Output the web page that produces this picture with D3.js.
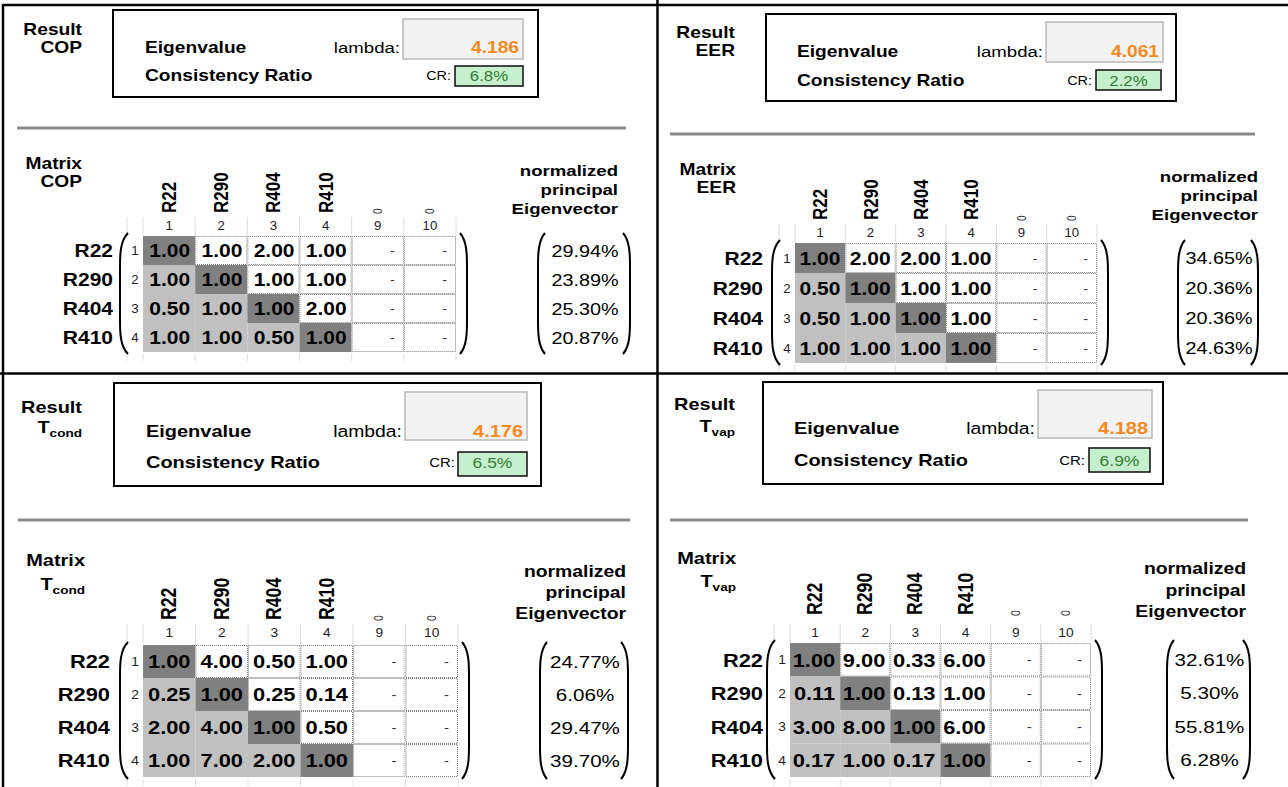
<!DOCTYPE html>
<html><head><meta charset="utf-8">
<script src="https://cdn.jsdelivr.net/npm/d3@7"></script>
<style>body{margin:0;background:#fff}svg{display:block}</style>
</head><body>
<script>
// ---------- data ----------
const alternatives = ["R22","R290","R404","R410"];
const columnNumbers = ["1","2","3","4","9","10"];
const columnHeaders = ["R22","R290","R404","R410","0","0"];
const criteriaNames = ["COP","EER","T","T"];
const criteriaSubscripts = ["","","cond","vap"];
const lambdaValues = ["4.186","4.061","4.176","4.188"];
const crValues = ["6.8%","2.2%","6.5%","6.9%"];
const matrixCOP   = [[1.00,1.00,2.00,1.00],[1.00,1.00,1.00,1.00],[0.50,1.00,1.00,2.00],[1.00,1.00,0.50,1.00]];
const matrixEER   = [[1.00,2.00,2.00,1.00],[0.50,1.00,1.00,1.00],[0.50,1.00,1.00,1.00],[1.00,1.00,1.00,1.00]];
const matrixTcond = [[1.00,4.00,0.50,1.00],[0.25,1.00,0.25,0.14],[2.00,4.00,1.00,0.50],[1.00,7.00,2.00,1.00]];
const matrixTvap  = [[1.00,9.00,0.33,6.00],[0.11,1.00,0.13,1.00],[3.00,8.00,1.00,6.00],[0.17,1.00,0.17,1.00]];
const eigenCOP   = [29.94,23.89,25.30,20.87];
const eigenEER   = [34.65,20.36,20.36,24.63];
const eigenTcond = [24.77,6.06,29.47,39.70];
const eigenTvap  = [32.61,5.30,55.81,6.28];

const panelData = [
  {name:criteriaNames[0], sub:criteriaSubscripts[0], lambda:lambdaValues[0], cr:crValues[0], matrix:matrixCOP, eigen:eigenCOP},
  {name:criteriaNames[1], sub:criteriaSubscripts[1], lambda:lambdaValues[1], cr:crValues[1], matrix:matrixEER, eigen:eigenEER},
  {name:criteriaNames[2], sub:criteriaSubscripts[2], lambda:lambdaValues[2], cr:crValues[2], matrix:matrixTcond, eigen:eigenTcond},
  {name:criteriaNames[3], sub:criteriaSubscripts[3], lambda:lambdaValues[3], cr:crValues[3], matrix:matrixTvap, eigen:eigenTvap}
];

// ---------- layout (screen positions) ----------
const layouts = [
  {resR:82, resY:35, critY:53, box:[113,10,538,97], labX:145, eigY:53, crY:81, lamR:400, gray:[403,19,523,59], green:[455,66,523,86], crR:451,
   sep:[17,626,128], matR:82, matY:169, matCritY:187, gx:[143,456], gy:[236,352], rowLabR:113, rowNumX:127, colNumY:230, hdrBottom:213,
   eig:[538,630], eigHeadR:618, eigHeadY:[176,195,214], fs:1},
  {resR:735, resY:38, critY:56, box:[766,14,1176,101], labX:797, eigY:57, crY:86, lamR:1043, gray:[1046,22,1163,62], green:[1096,70,1161,90], crR:1092,
   sep:[670,1255,134], matR:736, matY:175, matCritY:193, gx:[795,1097], gy:[243,363], rowLabR:763, rowNumX:779, colNumY:237, hdrBottom:220,
   eig:[1178,1258], eigHeadR:1258, eigHeadY:[182,201,220], fs:1},
  {resR:82, resY:413, critY:433, box:[114,383,541,486], labX:146, eigY:437, crY:468, lamR:402, gray:[405,392,527,440], green:[458,452,527,476], crR:455,
   sep:[18,630,520], matR:85, matY:566, matCritY:590, gx:[143,458], gy:[645,777], rowLabR:110, rowNumX:127, colNumY:637, hdrBottom:620,
   eig:[540,628], eigHeadR:626, eigHeadY:[577,598,619], fs:1.04},
  {resR:735, resY:410, critY:432, box:[763,382,1163,484], labX:794, eigY:434, crY:466, lamR:1035, gray:[1038,390,1152,438], green:[1089,448,1150,472], crR:1085,
   sep:[670,1248,520], matR:736, matY:564, matCritY:587, gx:[790,1091], gy:[643,777], rowLabR:763, rowNumX:774, colNumY:637, hdrBottom:615,
   eig:[1167,1250], eigHeadR:1246, eigHeadY:[574,596,617], fs:1.04}
];

const W = 1288, H = 787;
const FONT = "'Liberation Sans', Arial, sans-serif";
const SX = 1.2;

const svg = d3.select("body").append("svg").attr("width", W).attr("height", H)
  .style("font-family", FONT);
svg.append("rect").attr("width", W).attr("height", H).attr("fill", "#fff");

function txt(g, x, y, s, o = {}) {
  return g.append("text")
    .attr("transform", `translate(${x},${y}) scale(${o.sx || SX},1)`)
    .attr("text-anchor", o.anchor || "start")
    .attr("font-size", o.size || 16)
    .attr("font-weight", o.weight || "normal")
    .attr("fill", o.fill || "#000")
    .text(s);
}
function critText(g, x, y, d, size) {
  const t = g.append("text")
    .attr("transform", `translate(${x},${y}) scale(${SX},1)`)
    .attr("text-anchor", "end").attr("font-size", size).attr("font-weight", "bold");
  t.append("tspan").text(d.name);
  if (d.sub) t.append("tspan").attr("font-size", size * 0.68).attr("dy", 4).text(d.sub);
}
function paren(g, xb, xe, y0, y1) {
  const p = d3.path();
  p.moveTo(xe, y0);
  p.bezierCurveTo(xb, y0 + 8, xb, y0 + 22, xb, y0 + 34);
  p.lineTo(xb, y1 - 34);
  p.bezierCurveTo(xb, y1 - 22, xb, y1 - 8, xe, y1);
  g.append("path").attr("d", p.toString()).attr("fill", "none").attr("stroke", "#000").attr("stroke-width", 2);
}

panelData.forEach((d, k) => {
  const L = layouts[k];
  const fs = L.fs;
  const g = svg.append("g");

  // Result header
  txt(g, L.resR, L.resY, "Result", {anchor:"end", size:16*fs, weight:"bold"});
  critText(g, L.resR, L.critY, d, 16*fs);

  // Result box
  g.append("rect").attr("x", L.box[0]).attr("y", L.box[1]).attr("width", L.box[2]-L.box[0]).attr("height", L.box[3]-L.box[1])
    .attr("fill", "none").attr("stroke", "#000").attr("stroke-width", 2);
  txt(g, L.labX, L.eigY, "Eigenvalue", {size:16*fs, weight:"bold"});
  txt(g, L.labX, L.crY, "Consistency Ratio", {size:16*fs, weight:"bold"});
  txt(g, L.lamR, L.eigY, "lambda:", {anchor:"end", size:15.5*fs});
  g.append("rect").attr("x", L.gray[0]).attr("y", L.gray[1]).attr("width", L.gray[2]-L.gray[0]).attr("height", L.gray[3]-L.gray[1])
    .attr("fill", "#f2f2f2").attr("stroke", "#b8b8b8").attr("stroke-width", 1.5);
  txt(g, L.gray[2]-4, L.eigY, d.lambda, {anchor:"end", size:16*fs, weight:"bold", fill:"#f5891f"});
  txt(g, L.crR, L.crY - 1, "CR:", {anchor:"end", size:12*fs});
  g.append("rect").attr("x", L.green[0]).attr("y", L.green[1]).attr("width", L.green[2]-L.green[0]).attr("height", L.green[3]-L.green[1])
    .attr("fill", "#c6efce").attr("stroke", "#1a1a1a").attr("stroke-width", 1.6);
  txt(g, (L.green[0]+L.green[2])/2, L.crY - 0.5, d.cr, {anchor:"middle", size:14*fs, fill:"#2f7d32"});

  // separator
  g.append("line").attr("x1", L.sep[0]).attr("x2", L.sep[1]).attr("y1", L.sep[2]).attr("y2", L.sep[2])
    .attr("stroke", "#8a8a8a").attr("stroke-width", 3);

  // Matrix title
  txt(g, L.matR, L.matY, "Matrix", {anchor:"end", size:16*fs, weight:"bold"});
  critText(g, L.matR, L.matCritY, d, 16*fs);

  // scales
  const x = d3.scaleBand().domain(columnNumbers).range(L.gx);
  const y = d3.scaleBand().domain(alternatives).range(L.gy);
  const bw = x.bandwidth(), bh = y.bandwidth();

  // faint excel gridlines
  const gl = g.append("g").attr("stroke", "#dcdcdc").attr("stroke-width", 1);
  [L.rowNumX, ...columnNumbers.map(c => x(c)), L.gx[1]].forEach(xx => {
    gl.append("line").attr("x1", xx).attr("x2", xx).attr("y1", L.gy[1] + 2).attr("y2", L.gy[1] + 9);
    gl.append("line").attr("x1", xx).attr("x2", xx).attr("y1", L.colNumY - 13).attr("y2", L.gy[0]);
  });

  // column headers
  columnHeaders.forEach((h, j) => {
    const cx = x(columnNumbers[j]) + bw / 2;
    const big = j < 4;
    g.append("text")
      .attr("transform", `translate(${cx + (big ? 7 : 4)},${L.hdrBottom - (big ? 0 : -1)}) rotate(-90) scale(1,${SX})`)
      .attr("font-size", (big ? 17 : 10) * fs).attr("font-weight", big ? "bold" : "normal")
      .attr("fill", big ? "#000" : "#333")
      .text(h);
    txt(g, cx, L.colNumY, columnNumbers[j], {anchor:"middle", size:12*fs, fill:"#222", sx:1.1});
  });

  // cells
  alternatives.forEach((a, i) => {
    const yy = y(a);
    txt(g, L.rowLabR, yy + bh/2 + 6.5*fs, a, {anchor:"end", size:17.5*fs, weight:"bold"});
    txt(g, L.rowNumX + 8, yy + bh/2 + 4.5, String(i + 1), {anchor:"middle", size:12*fs, fill:"#222", sx:1.1});
    columnNumbers.forEach((c, j) => {
      const xx = x(c);
      const isDiag = j === i, isLower = j < 4 && j < i;
      const fill = isDiag ? "#808080" : isLower ? "#c0c0c0" : "#fff";
      g.append("rect").attr("x", xx).attr("y", yy).attr("width", bw).attr("height", bh)
        .attr("fill", fill);
      if (!isDiag && !isLower) {
        g.append("rect").attr("x", xx + 0.5).attr("y", yy + 0.5).attr("width", bw - 1).attr("height", bh - 1)
          .attr("fill", "none").attr("stroke", "#7a7a7a").attr("stroke-width", 1).attr("stroke-dasharray", "1,1");
      }
      if (j < 4) {
        txt(g, xx + bw - 5, yy + bh/2 + 6.5*fs, d.matrix[i][j].toFixed(2), {anchor:"end", size:17.5*fs, weight:"bold"});
      } else {
        txt(g, xx + bw - 9, yy + bh/2 + 4.5, "-", {anchor:"end", size:12*fs, fill:"#333"});
      }
    });
    // eigenvector value
    txt(g, (L.eig[0] + L.eig[1]) / 2 + 1, yy + bh/2 + 6*fs, d.eigen[i].toFixed(2) + "%", {anchor:"middle", size:16.5*fs});
  });

  // parentheses
  paren(g, L.rowNumX - 7, L.rowNumX + 1, L.gy[0] - 3, L.gy[1] + 2);
  paren(g, L.gx[1] + 11, L.gx[1] + 4, L.gy[0] - 3, L.gy[1] + 2);
  paren(g, L.eig[0], L.eig[0] + 7, L.gy[0] - 3, L.gy[1] + 2);
  paren(g, L.eig[1], L.eig[1] - 7, L.gy[0] - 3, L.gy[1] + 2);

  // eigenvector header
  ["normalized", "principal", "Eigenvector"].forEach((s, m) =>
    txt(g, L.eigHeadR, L.eigHeadY[m], s, {anchor:"end", size:15.5*fs, weight:"bold"}));
});

// frame lines
const fr = svg.append("g").attr("stroke", "#000").attr("stroke-width", 2.5);
fr.append("line").attr("x1", 3).attr("x2", W).attr("y1", 5).attr("y2", 5);
fr.append("line").attr("x1", 3).attr("x2", 3).attr("y1", 4).attr("y2", H);
fr.append("line").attr("x1", 657.5).attr("x2", 657.5).attr("y1", 0).attr("y2", H);
fr.append("line").attr("x1", 0).attr("x2", W).attr("y1", 373.5).attr("y2", 373.5);
</script>
</body></html>
